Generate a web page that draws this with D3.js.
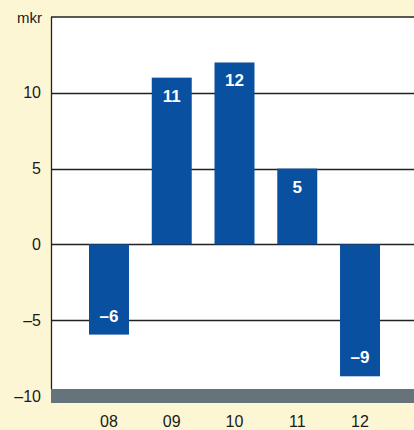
<!DOCTYPE html>
<html>
<head>
<meta charset="utf-8">
<script src="https://cdn.jsdelivr.net/npm/d3@7"></script>
<style>
  html, body { margin: 0; padding: 0; background: #fdf6d4; }
  svg { display: block; }
</style>
</head>
<body>
<script>
// chart data
var years = ["08", "09", "10", "11", "12"];
var values = [-5.95, 11, 12, 5, -8.7];
var valueLabels = ["\u20136", "11", "12", "5", "\u20139"];
var yTicks = [-10, -5, 0, 5, 10];
var unitLabel = "mkr";

var svgWidth = 414;
var svgHeight = 430;

// plot box
var plotLeft = 51, plotRight = 414, plotTop = 17;

var svg = d3.select("body")
  .append("svg")
  .attr("width", svgWidth)
  .attr("height", svgHeight);

var y = d3.scaleLinear()
  .domain([-10, 15])
  .range([396, plotTop]);

var x = d3.scaleBand()
  .domain(years)
  .range([89, 380])
  .paddingInner(0.363)
  .paddingOuter(0);

// white plot area
svg.append("rect")
  .attr("x", plotLeft)
  .attr("y", plotTop)
  .attr("width", plotRight - plotLeft)
  .attr("height", 389 - plotTop)
  .attr("fill", "#ffffff");

// grid lines
svg.append("g")
  .selectAll("line")
  .data(yTicks.filter(d => d > -10))
  .enter().append("line")
  .attr("x1", plotLeft)
  .attr("x2", plotRight)
  .attr("y1", d => Math.round(y(d)) + 0.5)
  .attr("y2", d => Math.round(y(d)) + 0.5)
  .attr("stroke", "#222")
  .attr("stroke-width", 1.3);

// top border
svg.append("line")
  .attr("x1", plotLeft).attr("x2", plotRight)
  .attr("y1", plotTop).attr("y2", plotTop)
  .attr("stroke", "#222").attr("stroke-width", 1.5);

// bars
svg.append("g")
  .selectAll("rect")
  .data(values)
  .enter().append("rect")
  .attr("x", (d, i) => x(years[i]))
  .attr("width", x.bandwidth())
  .attr("y", d => y(Math.max(0, d)))
  .attr("height", d => Math.abs(y(d) - y(0)))
  .attr("fill", "#0a50a0");

// value labels inside bars
svg.append("g")
  .selectAll("text")
  .data(values)
  .enter().append("text")
  .attr("x", (d, i) => x(years[i]) + x.bandwidth() / 2)
  .attr("y", d => d >= 0 ? y(d) + 24 : y(d) - 13)
  .attr("text-anchor", "middle")
  .attr("font-family", "Liberation Sans, Arial, sans-serif")
  .attr("font-weight", "bold")
  .attr("font-size", 17)
  .attr("fill", "#ffffff")
  .text((d, i) => valueLabels[i]);

// gray base band
svg.append("rect")
  .attr("x", plotLeft)
  .attr("y", 389)
  .attr("width", plotRight - plotLeft)
  .attr("height", 14)
  .attr("fill", "#66737a");

// left axis line
svg.append("line")
  .attr("x1", plotLeft + 0.5).attr("x2", plotLeft + 0.5)
  .attr("y1", plotTop).attr("y2", 389)
  .attr("stroke", "#222").attr("stroke-width", 1.3);

// y tick labels
svg.append("g")
  .selectAll("text")
  .data(yTicks)
  .enter().append("text")
  .attr("x", 41)
  .attr("y", d => y(d) + 5.5)
  .attr("text-anchor", "end")
  .attr("font-family", "Liberation Sans, Arial, sans-serif")
  .attr("font-size", 16)
  .attr("fill", "#1a1a1a")
  .text(d => d < 0 ? "\u2013" + Math.abs(d) : d);

svg.append("text")
  .attr("x", 42)
  .attr("y", 23)
  .attr("text-anchor", "end")
  .attr("font-family", "Liberation Sans, Arial, sans-serif")
  .attr("font-size", 15)
  .attr("fill", "#1a1a1a")
  .text(unitLabel);

// x labels
svg.append("g")
  .selectAll("text")
  .data(years)
  .enter().append("text")
  .attr("x", d => x(d) + x.bandwidth() / 2)
  .attr("y", 427)
  .attr("text-anchor", "middle")
  .attr("font-family", "Liberation Sans, Arial, sans-serif")
  .attr("font-size", 16)
  .attr("fill", "#1a1a1a")
  .text(d => d);
</script>
</body>
</html>
